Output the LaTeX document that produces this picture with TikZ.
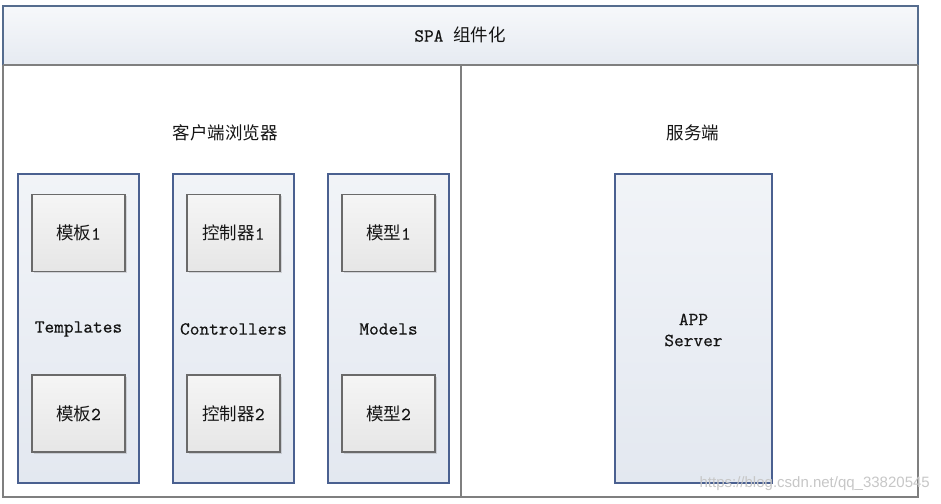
\documentclass[tikz,border=0pt]{standalone}
\usepackage{fontspec}
\newfontfamily\cjk{Noto Sans CJK SC}
\newfontfamily\mono[FakeBold=0.35]{lmmono10-regular.otf}
\usetikzlibrary{shadows}
\definecolor{framegray}{HTML}{7F7F7F}
\definecolor{barblue}{HTML}{556C8E}
\definecolor{colblue}{HTML}{4A6090}
\definecolor{boxgray}{HTML}{6A6A6A}
\definecolor{txt}{HTML}{151515}
\definecolor{colfill}{HTML}{E3E8F0}
\definecolor{itemfill}{HTML}{E6E6E6}
\newcommand\zh[1]{{\fontsize{17.5}{21}\selectfont\cjk #1}}
\tikzset{
  x=1pt, y=-1pt,
  lbl/.style={font=\fontsize{18.5}{21}\selectfont\mono, text=txt, inner sep=0pt},
  colbox/.style={draw=colblue, line width=1.1pt, top color=white!50!colfill, bottom color=colfill, inner sep=0pt},
  itembox/.style={draw=boxgray, line width=1.1pt, top color=white!60!itemfill, bottom color=itemfill, inner sep=0pt,
     minimum width=93pt, minimum height=77pt,
     drop shadow={shadow xshift=1.5pt, shadow yshift=-1.5pt, fill=black, opacity=0.12}},
}
\begin{document}
\begin{tikzpicture}
\useasboundingbox (0,0) rectangle (941,503);
\fill[white] (0,0) rectangle (941,503);
% outer frame
\draw[framegray, line width=1.1pt] (3,65) -- (3,497) -- (918,497) -- (918,65);
% title bar
\shade[top color=white!70!colfill, bottom color=colfill!90!white] (3,6) rectangle (918,65);
\draw[barblue, line width=1.2pt] (3,65) -- (3,6) -- (918,6) -- (918,65);
\draw[framegray, line width=1.1pt] (3,65) -- (918,65);
\node[lbl] (title) at (460,35) {SPA \zh{组件化}};
% divider
\draw[framegray, line width=1.1pt] (461,65) -- (461,497);
% section titles
\node[lbl] (client) at (225,133) {\zh{客户端浏览器}};
\node[lbl] (server) at (693,133) {\zh{服务端}};
% columns
\path[colbox] (18,174) rectangle (139,483);
\path[colbox] (173,174) rectangle (294,483);
\path[colbox] (328,174) rectangle (449,483);
\node[lbl] (tpl) at (78.5,329) {Templates};
\node[lbl] (ctl) at (233.5,329) {Controllers};
\node[lbl] (mdl) at (388.5,329) {Models};
% inner boxes
\node[itembox] (t1) at (78.5,233) {};
\node[lbl] at (t1) {\zh{模板}1};
\node[itembox] (t2) at (78.5,413.5) {};
\node[lbl] at (t2) {\zh{模板}2};
\node[itembox] (c1) at (233.5,233) {};
\node[lbl] at (c1) {\zh{控制器}1};
\node[itembox] (c2) at (233.5,413.5) {};
\node[lbl] at (c2) {\zh{控制器}2};
\node[itembox] (m1) at (388.5,233) {};
\node[lbl] at (m1) {\zh{模型}1};
\node[itembox] (m2) at (388.5,413.5) {};
\node[lbl] at (m2) {\zh{模型}2};
% server box
\path[colbox] (615,174) rectangle (772,483);
\node[lbl, align=center] (app) at (693.5,330) {APP\\Server};
% watermark
\node[font=\fontsize{15}{18}\selectfont\fontspec{Liberation Sans}, text=black!22, anchor=east, inner sep=0pt] (wm) at (930,484) {https://blog.csdn.net/qq\_33820545};
\end{tikzpicture}
\end{document}
